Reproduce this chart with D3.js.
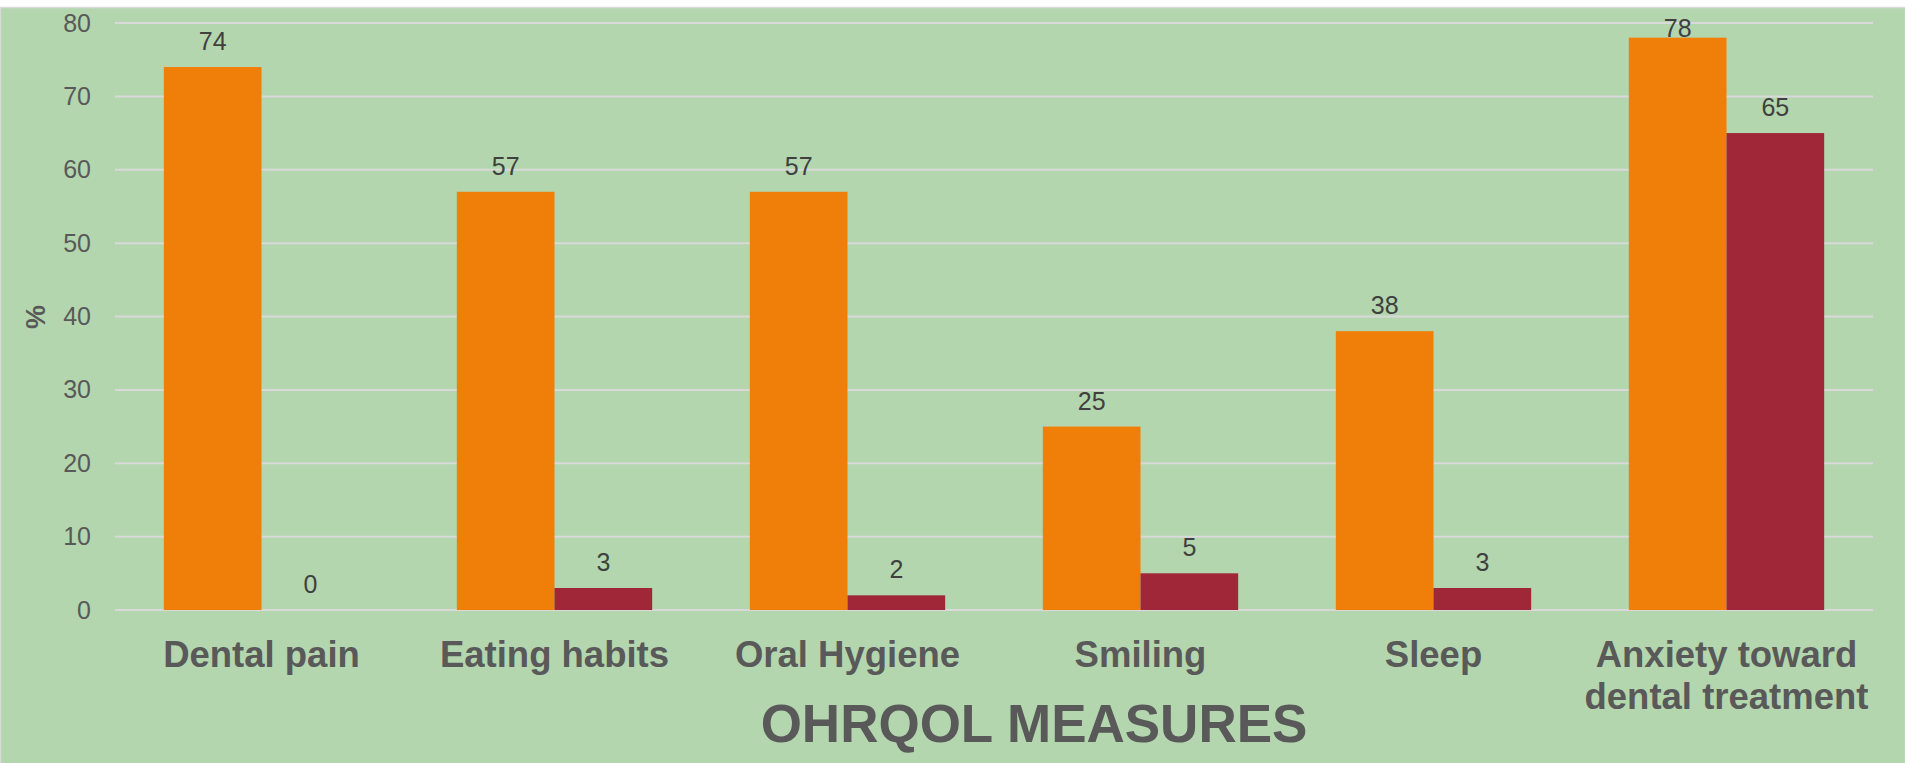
<!DOCTYPE html>
<html>
<head>
<meta charset="utf-8">
<script src="https://cdn.jsdelivr.net/npm/d3@7"></script>
<style>
  html, body { margin: 0; padding: 0; background: #fff; }
  svg { display: block; font-family: "Liberation Sans", Arial, sans-serif; }
</style>
</head>
<body>
<div id="chart"></div>
<script>
// OHRQOL measures, two series per category (%)
const categories = [
    ["Dental pain"],
    ["Eating habits"],
    ["Oral Hygiene"],
    ["Smiling"],
    ["Sleep"],
    ["Anxiety toward", "dental treatment"]
];
const seriesNames = ["Series 1", "Series 2"];
const series1 = [74, 57, 57, 25, 38, 78];
const series2 = [0, 3, 2, 5, 3, 65];
const yTicks = [0, 10, 20, 30, 40, 50, 60, 70, 80];
const xTitle = "OHRQOL MEASURES";
const yTitle = "%";

const colors = ["#F07F09", "#A02737"];

const W = 1905, H = 763;
const margin = { top: 23, right: 32, bottom: 153, left: 115 };
const width = W - margin.left - margin.right,
    height = H - margin.top - margin.bottom;

const svg = d3.select("#chart")
    .append("svg")
    .attr("width", W)
    .attr("height", H);

// chart area background
svg.append("rect")
    .attr("x", 0.5).attr("y", 7.5)
    .attr("width", W).attr("height", H)
    .attr("fill", "#B3D6AE")
    .attr("stroke", "#D9D9D9")
    .attr("stroke-width", 1.5);

const g = svg.append("g")
    .attr("transform", `translate(${margin.left},${margin.top})`);

const keys = categories.map((c, i) => i);

const x = d3.scaleBand()
    .domain(keys)
    .range([0, width])
    .paddingInner(0)
    .paddingOuter(0);

// Excel style gap width 100%: bar = band / 3
const x1 = d3.scaleBand()
    .domain([0, 1])
    .range([x.bandwidth() / 6, x.bandwidth() * 5 / 6]);

const y = d3.scaleLinear()
    .domain([0, 80])
    .range([height, 0]);

// gridlines
g.append("g")
    .selectAll("line")
    .data(yTicks)
    .join("line")
    .attr("x1", 0).attr("x2", width)
    .attr("y1", d => y(d)).attr("y2", d => y(d))
    .attr("stroke", "#D9D9D9")
    .attr("stroke-width", 2);

// y axis labels
const yAxis = g.append("g")
    .call(d3.axisLeft(y).tickValues(yTicks).tickSize(0).tickPadding(24));
yAxis.select(".domain").remove();
yAxis.selectAll("text")
    .attr("font-size", 25)
    .attr("font-family", "Liberation Sans, Arial, sans-serif")
    .attr("fill", "#595959");

// bars
const data = [series1, series2];
const groups = g.append("g")
    .selectAll("g")
    .data(keys)
    .join("g")
    .attr("transform", d => `translate(${x(d)},0)`);

groups.selectAll("rect")
    .data(i => data.map((s, k) => ({ k, v: s[i] })))
    .join("rect")
    .attr("x", d => x1(d.k))
    .attr("width", x1.bandwidth())
    .attr("y", d => y(d.v))
    .attr("height", d => height - y(d.v))
    .attr("fill", d => colors[d.k]);

// data labels, kept inside the chart area at the top
groups.selectAll("text.val")
    .data(i => data.map((s, k) => ({ k, v: s[i] })))
    .join("text")
    .attr("class", "val")
    .attr("x", d => x1(d.k) + x1.bandwidth() / 2)
    .attr("y", d => Math.max(y(d.v) - 17, 14))
    .attr("text-anchor", "middle")
    .attr("font-size", 25)
    .attr("fill", "#404040")
    .text(d => d.v);

// category labels
const xLabels = g.append("g")
    .selectAll("text")
    .data(keys)
    .join("text")
    .attr("x", d => x(d) + x.bandwidth() / 2)
    .attr("y", height + 57)
    .attr("text-anchor", "middle")
    .attr("font-size", 36.5)
    .attr("font-weight", "bold")
    .attr("fill", "#595959");
xLabels.selectAll("tspan")
    .data(d => categories[d])
    .join("tspan")
    .attr("x", function () { return this.parentNode.getAttribute("x"); })
    .attr("dy", (d, i) => i === 0 ? 0 : 42)
    .text(d => d);

// axis titles
svg.append("text")
    .attr("x", 1034)
    .attr("y", 742)
    .attr("text-anchor", "middle")
    .attr("font-size", 53)
    .attr("font-weight", "bold")
    .attr("fill", "#595959")
    .text(xTitle);

svg.append("text")
    .attr("transform", "translate(45,317) rotate(-90)")
    .attr("text-anchor", "middle")
    .attr("font-size", 27)
    .attr("font-weight", "bold")
    .attr("fill", "#595959")
    .text(yTitle);
</script>
</body>
</html>
